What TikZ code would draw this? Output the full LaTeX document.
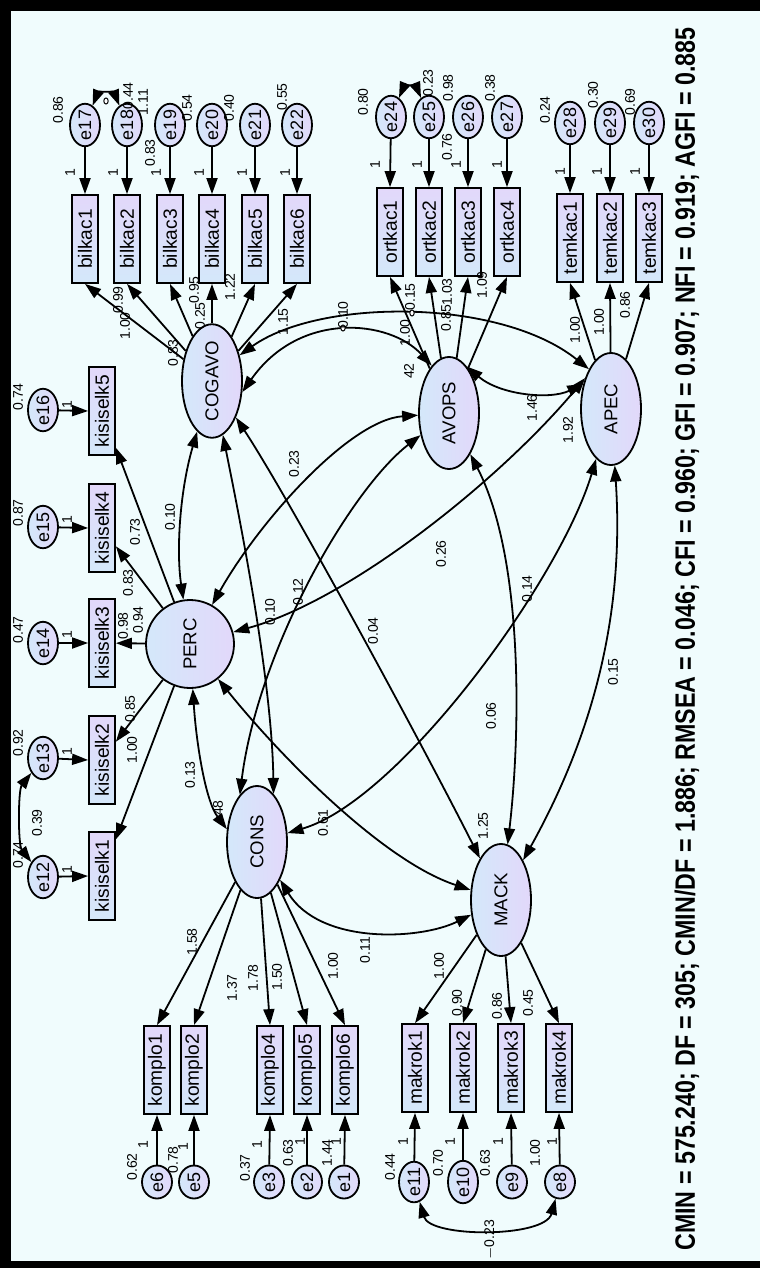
\documentclass[tikz,border=0pt]{standalone}
\usepackage{graphicx}
\usepackage{fontspec}
\setmainfont{Liberation Sans}
\usetikzlibrary{arrows.meta,shapes.geometric}

\definecolor{bgc}{RGB}{240,252,253}
\definecolor{lav}{RGB}{226,216,250}
\definecolor{sky}{RGB}{212,232,250}

\tikzset{
  obs/.style={draw, line width=0.9pt, rectangle, rotate=90, minimum width=44pt, minimum height=13pt, inner sep=0pt, top color=lav, bottom color=sky, font=\fontsize{9.6}{10}\selectfont},
  latent/.style={draw, line width=0.9pt, ellipse, rotate=90, minimum width=56pt, minimum height=30pt, inner sep=0pt, left color=sky, right color=lav, font=\fontsize{9.3}{10}\selectfont},
  err/.style={draw, line width=0.9pt, ellipse, rotate=90, minimum width=16.5pt, minimum height=15pt, inner sep=0pt, left color=sky, right color=lav, font=\fontsize{9}{10}\selectfont},
  est/.style={rotate=90, inner sep=0pt, font=\fontsize{7}{7}\selectfont},
  knot/.style={draw, line width=0.5pt, fill=white, ellipse, rotate=90, minimum width=3pt, minimum height=2.2pt, inner sep=0pt},
  reg/.style={line width=0.9pt, -{Triangle[length=8pt,width=5.5pt]}},
  cov/.style={line width=0.9pt, {Triangle[length=8pt,width=5.5pt]}-{Triangle[length=8pt,width=5.5pt]}},
}

\begin{document}
\begin{tikzpicture}[x=0.5pt, y=-0.5pt]
	\useasboundingbox (0,0) rectangle (760,1268);
	
	% Frame and background
	\fill[black] (0,0) rectangle (760,1268);
	\fill[bgc] (11,11) rectangle (760,1261);
	
	% Latent variables
	\node[latent] (COGAVO) at (212,381) {COGAVO};
	\node[latent] (AVOPS) at (449,413) {AVOPS};
	\node[latent] (APEC) at (611,409) {APEC};
	\node[latent] (CONS) at (257,842) {CONS};
	\node[latent] (MACK) at (501,900) {MACK};
	\node[latent, circle, minimum size=44pt] (PERC) at (190,644) {PERC};
	
	% Items, top row
	\node[obs] (bilkac1) at (85,239) {bilkac1};
	\node[obs] (bilkac2) at (127,239) {bilkac2};
	\node[obs] (bilkac3) at (170,239) {bilkac3};
	\node[obs] (bilkac4) at (212,239) {bilkac4};
	\node[obs] (bilkac5) at (255,239) {bilkac5};
	\node[obs] (bilkac6) at (297,239) {bilkac6};
	\node[obs] (ortkac1) at (390,232) {ortkac1};
	\node[obs] (ortkac2) at (429,232) {ortkac2};
	\node[obs] (ortkac3) at (468,232) {ortkac3};
	\node[obs] (ortkac4) at (507,232) {ortkac4};
	\node[obs] (temkac1) at (570,238) {temkac1};
	\node[obs] (temkac2) at (610,238) {temkac2};
	\node[obs] (temkac3) at (649,238) {temkac3};
	
	% Items, left column
	\node[obs] (kisiselk5) at (102,411) {kisiselk5};
	\node[obs] (kisiselk4) at (102,528) {kisiselk4};
	\node[obs] (kisiselk3) at (102,643) {kisiselk3};
	\node[obs] (kisiselk2) at (102,760) {kisiselk2};
	\node[obs] (kisiselk1) at (102,876) {kisiselk1};
	
	% Items, bottom row
	\node[obs] (komplo1) at (157,1070) {komplo1};
	\node[obs] (komplo2) at (194,1070) {komplo2};
	\node[obs] (komplo4) at (270,1070) {komplo4};
	\node[obs] (komplo5) at (307,1070) {komplo5};
	\node[obs] (komplo6) at (345,1070) {komplo6};
	\node[obs] (makrok1) at (415,1068) {makrok1};
	\node[obs] (makrok2) at (463,1068) {makrok2};
	\node[obs] (makrok3) at (511,1068) {makrok3};
	\node[obs] (makrok4) at (559,1068) {makrok4};
	
	% Error terms
	\node[err] (e17) at (85,125) {e17};
	\node[err] (e18) at (127,125) {e18};
	\node[err] (e19) at (170,125) {e19};
	\node[err] (e20) at (212,125) {e20};
	\node[err] (e21) at (255,125) {e21};
	\node[err] (e22) at (297,125) {e22};
	\node[err] (e24) at (391,117) {e24};
	\node[err] (e25) at (429,117) {e25};
	\node[err] (e26) at (468,117) {e26};
	\node[err] (e27) at (507,117) {e27};
	\node[err] (e28) at (570,123) {e28};
	\node[err] (e29) at (610,123) {e29};
	\node[err] (e30) at (649,123) {e30};
	\node[err] (e16) at (43,410) {e16};
	\node[err] (e15) at (43,527) {e15};
	\node[err] (e14) at (43,643) {e14};
	\node[err] (e13) at (43,758) {e13};
	\node[err] (e12) at (43,877) {e12};
	\node[err] (e6) at (157,1182) {e6};
	\node[err] (e5) at (194,1182) {e5};
	\node[err] (e3) at (269,1182) {e3};
	\node[err] (e2) at (307,1182) {e2};
	\node[err] (e1) at (344,1182) {e1};
	\node[err] (e11) at (414,1182) {e11};
	\node[err] (e10) at (463,1182) {e10};
	\node[err] (e9) at (512,1182) {e9};
	\node[err] (e8) at (560,1182) {e8};
	
	% Error paths
	\draw[reg] (e17) -- (bilkac1.east);
	\draw[reg] (e18) -- (bilkac2.east);
	\draw[reg] (e19) -- (bilkac3.east);
	\draw[reg] (e20) -- (bilkac4.east);
	\draw[reg] (e21) -- (bilkac5.east);
	\draw[reg] (e22) -- (bilkac6.east);
	\draw[reg] (e24) -- (ortkac1.east);
	\draw[reg] (e25) -- (ortkac2.east);
	\draw[reg] (e26) -- (ortkac3.east);
	\draw[reg] (e27) -- (ortkac4.east);
	\draw[reg] (e28) -- (temkac1.east);
	\draw[reg] (e29) -- (temkac2.east);
	\draw[reg] (e30) -- (temkac3.east);
	\draw[reg] (e16) -- (kisiselk5.north);
	\draw[reg] (e15) -- (kisiselk4.north);
	\draw[reg] (e14) -- (kisiselk3.north);
	\draw[reg] (e13) -- (kisiselk2.north);
	\draw[reg] (e12) -- (kisiselk1.north);
	\draw[reg] (e6) -- (komplo1.west);
	\draw[reg] (e5) -- (komplo2.west);
	\draw[reg] (e3) -- (komplo4.west);
	\draw[reg] (e2) -- (komplo5.west);
	\draw[reg] (e1) -- (komplo6.west);
	\draw[reg] (e11) -- (makrok1.west);
	\draw[reg] (e10) -- (makrok2.west);
	\draw[reg] (e9) -- (makrok3.west);
	\draw[reg] (e8) -- (makrok4.west);
	
	% Loadings
	\draw[reg] (COGAVO) -- (bilkac1.west);
	\draw[reg] (COGAVO) -- (bilkac2.west);
	\draw[reg] (COGAVO) -- (bilkac3.west);
	\draw[reg] (COGAVO) -- (bilkac4.west);
	\draw[reg] (COGAVO) -- (bilkac5.west);
	\draw[reg] (COGAVO) -- (bilkac6.west);
	\draw[reg] (AVOPS) -- (ortkac1.west);
	\draw[reg] (AVOPS) -- (ortkac2.west);
	\draw[reg] (AVOPS) -- (ortkac3.west);
	\draw[reg] (AVOPS) -- (ortkac4.west);
	\draw[reg] (APEC) -- (temkac1.west);
	\draw[reg] (APEC) -- (temkac2.west);
	\draw[reg] (APEC) -- (temkac3.west);
	\draw[reg] (PERC) -- (kisiselk5);
	\draw[reg] (PERC) -- (kisiselk4);
	\draw[reg] (PERC) -- (kisiselk3);
	\draw[reg] (PERC) -- (kisiselk2);
	\draw[reg] (PERC) -- (kisiselk1);
	\draw[reg] (CONS) -- (komplo1.east);
	\draw[reg] (CONS) -- (komplo2.east);
	\draw[reg] (CONS) -- (komplo4.east);
	\draw[reg] (CONS) -- (komplo5.east);
	\draw[reg] (CONS) -- (komplo6.east);
	\draw[reg] (MACK) -- (makrok1.east);
	\draw[reg] (MACK) -- (makrok2.east);
	\draw[reg] (MACK) -- (makrok3.east);
	\draw[reg] (MACK) -- (makrok4.east);
	
	% Error covariances
	\draw[cov] (e17) .. controls (98,92) and (114,92) .. (e18);
	\draw[cov] (e24) .. controls (404,86) and (416,86) .. (e25);
	\draw[cov] (e13) .. controls (18,790) and (18,845) .. (e12);
	\draw[cov] (e11) .. controls (430,1238) and (545,1238) .. (e8);
	
	% Latent covariances
	\draw[cov] (PERC) .. controls (176,550) and (180,490) .. (COGAVO);
	\draw[cov] (PERC) .. controls (196,740) and (205,800) .. (CONS.67);
	\draw[cov] (PERC) .. controls (275,750) and (380,860) .. (MACK);
	\draw[cov] (PERC) .. controls (260,520) and (350,420) .. (AVOPS);
	\draw[cov] (PERC) .. controls (350,600) and (500,480) .. (APEC.40);
	\draw[cov] (COGAVO) .. controls (240,520) and (272,680) .. (CONS.-19);
	\draw[cov] (COGAVO) .. controls (290,500) and (420,740) .. (MACK);
	\draw[cov] (COGAVO.250) .. controls (300,310) and (390,320) .. (AVOPS.20);
	\draw[cov] (COGAVO.-47) .. controls (320,298) and (500,298) .. (APEC.29);
	\draw[cov] (CONS.20) .. controls (258,650) and (350,490) .. (AVOPS);
	\draw[cov] (CONS) .. controls (400,800) and (560,580) .. (APEC);
	\draw[cov] (CONS) .. controls (320,945) and (420,940) .. (MACK);
	\draw[cov] (AVOPS) .. controls (525,560) and (520,740) .. (MACK);
	\draw[cov] (AVOPS.-21) .. controls (500,395) and (550,400) .. (APEC.48);
	\draw[cov] (APEC) .. controls (625,620) and (590,740) .. (MACK);
	
	% Label markers on arcs
	\node[knot] (k1718) at (106,101) {};
	\node[knot] (kcogavo) at (343,328) {};
	\node[knot] (kapec) at (412,313) {};
	
	% Estimates, top row
	\node[est] (v17) at (58,110) {0.86};
	\node[est] (v18) at (128,96) {0.44};
	\node[est] (c1718) at (143,102) {1.11};
	\node[est] (v19) at (187,108) {0.54};
	\node[est] (v20) at (229,108) {0.40};
	\node[est] (v22) at (282,97) {0.55};
	\node[est] (x18) at (150,153) {0.83};
	\node[est] (f17) at (70,173) {1};
	\node[est] (f18) at (113,173) {1};
	\node[est] (f19) at (156,173) {1};
	\node[est] (f20) at (199,173) {1};
	\node[est] (f21) at (242,173) {1};
	\node[est] (f22) at (285,173) {1};
	\node[est] (b1) at (125,326) {1.00};
	\node[est] (b2) at (118,300) {0.99};
	\node[est] (b3) at (173,353) {0.83};
	\node[est] (b4) at (200,316) {0.25};
	\node[est] (b5) at (194,290) {0.95};
	\node[est] (b6) at (230,287) {1.22};
	\node[est] (b7) at (283,322) {1.15};
	\node[est] (v24) at (363,102) {0.80};
	\node[est] (v25) at (428,83) {0.23};
	\node[est] (v26) at (448,88) {0.98};
	\node[est] (v27) at (490,88) {0.38};
	\node[est] (x25) at (447,147) {0.76};
	\node[est] (f24) at (375,165) {1};
	\node[est] (f25) at (417,165) {1};
	\node[est] (f26) at (456,165) {1};
	\node[est] (f27) at (497,165) {1};
	\node[est] (o1) at (410,297) {0.15};
	\node[est] (o2) at (405,333) {1.00};
	\node[est] (o3) at (446,318) {0.85};
	\node[est] (o4) at (447,292) {1.03};
	\node[est] (o5) at (482,285) {1.09};
	\node[est] (v28) at (545,110) {0.24};
	\node[est] (v29) at (593,95) {0.30};
	\node[est] (v30) at (630,102) {0.69};
	\node[est] (f28) at (560,172) {1};
	\node[est] (f29) at (597,172) {1};
	\node[est] (f30) at (635,172) {1};
	\node[est] (t1) at (575,330) {1.00};
	\node[est] (t2) at (599,322) {1.00};
	\node[est] (t3) at (625,305) {0.86};
	
	% Estimates, left column
	\node[est] (v16) at (18,397) {0.74};
	\node[est] (v15) at (18,513) {0.87};
	\node[est] (v14) at (18,630) {0.47};
	\node[est] (v13) at (18,743) {0.92};
	\node[est] (v12) at (18,855) {0.74};
	\node[est] (c1213) at (37,823) {0.39};
	\node[est] (f16) at (67,405) {1};
	\node[est] (f15) at (67,520) {1};
	\node[est] (f14) at (67,635) {1};
	\node[est] (f13) at (67,752) {1};
	\node[est] (f12) at (67,870) {1};
	\node[est] (k1) at (135,532) {0.73};
	\node[est] (k2) at (128,583) {0.83};
	\node[est] (k3) at (123,626) {0.98};
	\node[est] (k4) at (138,620) {0.94};
	\node[est] (k5) at (130,709) {0.85};
	\node[est] (k6) at (132,750) {1.00};
	
	% Estimates, bottom row
	\node[est] (v6) at (132,1167) {0.62};
	\node[est] (v5) at (173,1160) {0.78};
	\node[est] (v3) at (245,1168) {0.37};
	\node[est] (v2) at (288,1153) {0.63};
	\node[est] (v1) at (327,1153) {1.44};
	\node[est] (f6) at (143,1145) {1};
	\node[est] (f5) at (183,1147) {1};
	\node[est] (f3) at (257,1145) {1};
	\node[est] (f2) at (300,1142) {1};
	\node[est] (f1) at (336,1142) {1};
	\node[est] (m1) at (192,942) {1.58};
	\node[est] (m2) at (232,988) {1.37};
	\node[est] (m3) at (253,978) {1.78};
	\node[est] (m4) at (277,977) {1.50};
	\node[est] (m5) at (333,966) {1.00};
	\node[est] (v11) at (390,1167) {0.44};
	\node[est] (v10) at (438,1163) {0.70};
	\node[est] (v9) at (485,1163) {0.63};
	\node[est] (v8) at (535,1153) {1.00};
	\node[est] (f11) at (403,1142) {1};
	\node[est] (f10) at (450,1142) {1};
	\node[est] (f9) at (498,1142) {1};
	\node[est] (f8) at (552,1142) {1};
	\node[est] (c118) at (490,1240) {$-$0.23};
	\node[est] (n1) at (439,966) {1.00};
	\node[est] (n2) at (457,1003) {0.90};
	\node[est] (n3) at (497,1006) {0.86};
	\node[est] (n4) at (528,1003) {0.45};
	
	% Estimates between latent variables
	\node[est] (r1) at (170,517) {0.10};
	\node[est] (r2) at (190,775) {0.13};
	\node[est] (r3) at (218,808) {48};
	\node[est] (r4) at (323,823) {0.61};
	\node[est] (r5) at (270,612) {0.10};
	\node[est] (r6) at (298,592) {0.12};
	\node[est] (r7) at (373,631) {0.04};
	\node[est] (r8) at (294,464) {0.23};
	\node[est] (r9) at (441,554) {0.26};
	\node[est] (r10) at (527,589) {0.14};
	\node[est] (r11) at (491,716) {0.06};
	\node[est] (r12) at (613,672) {0.15};
	\node[est] (r13) at (365,950) {0.11};
	\node[est] (r14) at (483,826) {1.25};
	\node[est] (r15) at (532,408) {1.46};
	\node[est] (r16) at (568,430) {1.92};
	\node[est] (r17) at (343,315) {0.10};
	\node[est] (r18) at (409,371) {42};
	
	% Fit indices
	\node[rotate=90, inner sep=0pt] (fit) at (687,639) {\scalebox{0.83}[1]{\fontsize{14}{14}\selectfont\bfseries CMIN = 575.240; DF = 305; CMIN/DF = 1.886; RMSEA = 0.046; CFI = 0.960; GFI = 0.907; NFI = 0.919; AGFI = 0.885}};
	
\end{tikzpicture}
\end{document}
